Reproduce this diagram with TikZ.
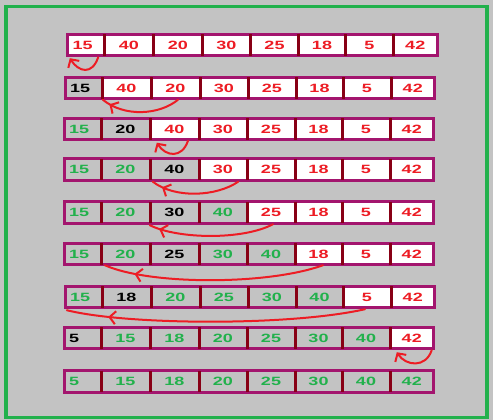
\documentclass[tikz,border=0pt]{standalone}
\usepackage{fontspec}
\usepackage{xcolor}
\usepackage{tikz}
\usetikzlibrary{arrows.meta,decorations.markings}

\newfontfamily\cellfont{Liberation Sans}[FakeStretch=1.5]
\definecolor{paintred}{RGB}{237,28,36}
\definecolor{paintgreen}{RGB}{34,177,76}
\definecolor{paintgrey}{RGB}{195,195,195}
\definecolor{rowpurple}{RGB}{163,21,110}
\definecolor{darkred}{RGB}{136,0,21}

\def\cellx{{64.5,101,150,199,247,295,342,390,433.5}}

\newcommand{\sortrow}[4]{%
  \foreach \val/\st [count=\j] in {#4} {
    \pgfmathsetmacro\xl{\cellx[\j-1]+#3}
    \pgfmathsetmacro\xr{\cellx[\j]+#3}
    \pgfmathsetmacro\cw{\xr-\xl}
    \ifnum\j=1 \def\lead{first}\else\def\lead{}\fi
    \node [\st, \lead, minimum width=\cw pt] (r#1-\j) at ({(\xl+\xr)/2},#2) {\val};
  }
  \draw [rowline] (r#1-1.north west) rectangle (r#1-8.south east);
  \foreach \j in {1,...,7}
    \draw [divider] (r#1-\j.north east) -- (r#1-\j.south east);
}

\begin{document}
\begin{tikzpicture}[x=1pt,y=-1pt]
      \tikzstyle{cell}=[minimum height=21pt, inner sep=0pt, font=\cellfont\bfseries\fontsize{12}{12}\selectfont]
      \tikzstyle{first}=[text width=27.5pt, align=left]
      \tikzstyle{todo}=[cell, fill=white, text=paintred]
      \tikzstyle{pick}=[cell, text=black]
      \tikzstyle{done}=[cell, text=paintgreen]
      \tikzstyle{rowline}=[draw=rowpurple, line width=3pt]
      \tikzstyle{divider}=[draw=darkred, line width=3pt]
      \tikzstyle{swap}=[draw=paintred, line width=2pt, line cap=round]
      \tikzstyle{swap head}=[swap, -{Straight Barb[length=6pt,width=13pt]}]
      \tikzstyle{swap mid}=[swap, postaction={decorate}, decoration={markings, mark=at position #1 with {\arrow{Straight Barb[length=6pt,width=13pt]}}}]

      \useasboundingbox (0,0) rectangle (493,420);
      \fill [paintgrey] (0,0) rectangle (493,420);
      \draw [paintgreen, line width=3.5pt] (6,6.5) rectangle (487,417.5);

      \sortrow{1}{45}{3.5}{15/todo,40/todo,20/todo,30/todo,25/todo,18/todo,5/todo,42/todo}
      \sortrow{2}{88}{1}{15/pick,40/todo,20/todo,30/todo,25/todo,18/todo,5/todo,42/todo}
      \sortrow{3}{129}{0}{15/done,20/pick,40/todo,30/todo,25/todo,18/todo,5/todo,42/todo}
      \sortrow{4}{169.5}{0}{15/done,20/done,40/pick,30/todo,25/todo,18/todo,5/todo,42/todo}
      \sortrow{5}{212.5}{0}{15/done,20/done,30/pick,40/done,25/todo,18/todo,5/todo,42/todo}
      \sortrow{6}{254}{0}{15/done,20/done,25/pick,30/done,40/done,18/todo,5/todo,42/todo}
      \sortrow{7}{297}{1}{15/done,18/pick,20/done,25/done,30/done,40/done,5/todo,42/todo}
      \sortrow{8}{338}{0}{5/pick,15/done,18/done,20/done,25/done,30/done,40/done,42/todo}
      \sortrow{9}{381.5}{0}{5/done,15/done,18/done,20/done,25/done,30/done,40/done,42/done}

      \draw [swap head] ([shift={(-6.5,1.5)}]r1-1.south east) .. controls +(-6,18) and +(9,14) .. ([shift={(2,2.5)}]r1-1.south west);
      \draw [swap mid=0.9] ([shift={(2.5,1)}]r2-3.south) .. controls +(-18,15) and +(22,18) .. ([shift={(1,1)}]r2-2.south west);
      \draw [swap head] ([shift={(13.5,1)}]r3-3.south) .. controls +(-6,18) and +(9,14) .. ([shift={(7,3)}]r3-3.south west);
      \draw [swap mid=0.88] ([shift={(-9,1.5)}]r4-4.south east) .. controls +(-22,15) and +(22,17) .. ([shift={(3,1.5)}]r4-3.south west);
      \draw [swap mid=0.92] ([shift={(2,1)}]r5-5.south) .. controls +(-30,16) and +(28,14) .. ([shift={(0,2)}]r5-3.south west);
      \draw [swap mid=0.86] ([shift={(4.5,0.5)}]r6-6.south) .. controls +(-55,20) and +(45,20) .. ([shift={(4,0.5)}]r6-2.south west);
      \draw [swap mid=0.86] ([shift={(-2,1.5)}]r7-7.south) .. controls +(-75,17) and +(60,15) .. ([shift={(1.5,2.5)}]r7-1.south west);
      \draw [swap head] ([shift={(-2,1.5)}]r8-8.south east) .. controls +(-6,18) and +(9,14) .. ([shift={(7,3.5)}]r8-8.south west);
\end{tikzpicture}
\end{document}
